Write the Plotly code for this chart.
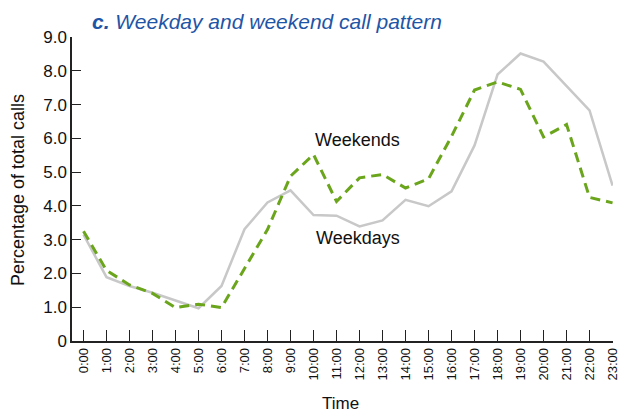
import plotly.graph_objects as go

hours = [f"{h}:00" for h in range(24)]
weekdays = [3.15, 1.89, 1.63, 1.43, 1.20, 0.97, 1.63, 3.31, 4.10, 4.46, 3.73, 3.71,
            3.39, 3.57, 4.18, 3.99, 4.43, 5.79, 7.89, 8.51, 8.27, 7.55, 6.83, 4.60]
weekends = [3.25, 2.09, 1.66, 1.41, 0.99, 1.09, 0.99, 2.15, 3.30, 4.88, 5.52, 4.13,
            4.83, 4.93, 4.53, 4.80, 6.06, 7.43, 7.67, 7.45, 6.04, 6.41, 4.25, 4.09]
y_ticks = [0, 1, 2, 3, 4, 5, 6, 7, 8, 9]
y_tick_labels = ["0", "1.0", "2.0", "3.0", "4.0", "5.0", "6.0", "7.0", "8.0", "9.0"]

FONT = "Liberation Sans, Arial, sans-serif"
x_idx = list(range(len(hours)))

# plot area in pixels: x 72..613, y 37..341
L, R, T, B = 72, 613, 37, 341
W, H = R - L, B - T


def px(x):
    return (x - L) / W


def py(y):
    return (B - y) / H


fig = go.Figure()
fig.add_trace(go.Scatter(x=x_idx, y=weekdays, mode="lines", name="Weekdays",
                         line=dict(color="#c8c8c8", width=2.5)))
fig.add_trace(go.Scatter(x=x_idx, y=weekends, mode="lines", name="Weekends",
                         line=dict(color="#6aa51c", width=3, dash="10px,6px")))

fig.add_annotation(x=9.96, y=5.96, xref="x", yref="y", text="Weekends", showarrow=False,
                   xanchor="left", yanchor="middle", font=dict(family=FONT, size=18, color="#111"))
fig.add_annotation(x=10.04, y=3.06, xref="x", yref="y", text="Weekdays", showarrow=False,
                   xanchor="left", yanchor="middle", font=dict(family=FONT, size=18, color="#111"))

fig.add_annotation(x=px(90), y=py(22), xref="paper", yref="paper",
                   text="<b><i>c.</i></b><i> Weekday and weekend call pattern</i>",
                   showarrow=False, xanchor="left", yanchor="middle",
                   font=dict(family=FONT, size=21, color="#1f55a6"))
fig.add_annotation(x=px(18), y=py(190), xref="paper", yref="paper",
                   text="Percentage of total calls", textangle=-90,
                   showarrow=False, xanchor="center", yanchor="middle",
                   font=dict(family=FONT, size=18, color="#111"))
fig.add_annotation(x=px(340), y=py(403), xref="paper", yref="paper",
                   text="Time", showarrow=False, xanchor="center", yanchor="middle",
                   font=dict(family=FONT, size=17, color="#111"))

fig.update_layout(
    width=619, height=412,
    margin=dict(l=L, r=619 - R, t=T, b=412 - B, autoexpand=False),
    plot_bgcolor="white", paper_bgcolor="white",
    showlegend=False,
    font=dict(family=FONT, size=16, color="#111"),
)

fig.update_xaxes(range=[-0.5, 23.02], tickmode="array", tickvals=x_idx, ticktext=hours,
                 tickangle=-90, tickfont=dict(size=13), showgrid=False, zeroline=False,
                 showline=True, linecolor="#222", linewidth=1.5, automargin=False,
                 ticklabeloverflow="allow",
                 ticks="inside", ticklen=11, tickcolor="#222", tickwidth=1.2)
fig.update_yaxes(range=[0, 9], tickmode="array", tickvals=y_ticks, ticktext=y_tick_labels,
                 tickfont=dict(size=17), showgrid=False, zeroline=False,
                 showline=True, linecolor="#222", linewidth=1.5, automargin=False,
                 ticklabeloverflow="allow",
                 ticks="inside", ticklen=9, tickcolor="#222", tickwidth=1.2)

fig.write_html("out.html", config={"displayModeBar": False},
               post_script="document.body.style.margin='0';document.body.style.overflow='hidden';")
